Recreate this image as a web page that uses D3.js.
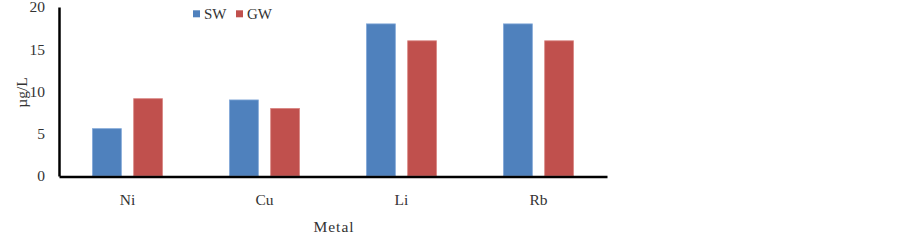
<!DOCTYPE html>
<html><head><meta charset="utf-8">
<script src="https://cdn.jsdelivr.net/npm/d3@7"></script>
<style>body{margin:0;background:#fff}svg{display:block}text{font-family:"Liberation Serif","Times New Roman",serif;fill:#333}</style>
</head><body>
<script>
const categories = ["Ni","Cu","Li","Rb"];
const seriesNames = ["SW","GW"];
const swValues = [5.6, 9.0, 18.0, 18.0];
const gwValues = [9.15, 8.0, 16.0, 16.0];
const yTicks = [0,5,10,15,20];
const colors = ["#4F81BD","#C0504D"];
const strokes = ["#7FA6D8","#D98583"];

const W=903,H=241;
const svg=d3.select("body").append("svg").attr("width",W).attr("height",H);
const x0=d3.scaleBand().domain(categories).range([59,607]).paddingInner(0).paddingOuter(0);
const x1=d3.scaleBand().domain(seriesNames).range([x0.bandwidth()/2-35, x0.bandwidth()/2+35]).paddingInner(0.3).paddingOuter(0);
const y=d3.scaleLinear().domain([0,20]).range([176,7]);
const data=[swValues,gwValues];

const g=svg.append("g");
categories.forEach((c,i)=>{
  seriesNames.forEach((s,j)=>{
    g.append("rect").attr("x",x0(c)+x1(s)).attr("y",y(data[j][i]))
     .attr("width",x1.bandwidth()).attr("height",y(0)-y(data[j][i]))
     .attr("fill",colors[j]).attr("stroke",strokes[j]).attr("stroke-width",0.8);
  });
});

// y axis
const ya=svg.append("g").attr("transform","translate(59,0)").call(d3.axisLeft(y).tickValues(yTicks).tickSize(0).tickPadding(14));
ya.select(".domain").attr("stroke","#000").attr("stroke-width",2.5);
ya.selectAll("text").style("font-family","Liberation Serif").style("font-size","15.5px").attr("fill","#333");
// x axis
const xa=svg.append("g").attr("transform","translate(0,176.5)").call(d3.axisBottom(x0).tickSize(0).tickPadding(17.5));
xa.select(".domain").attr("stroke","#000").attr("stroke-width",2.5);
xa.selectAll("text").style("font-family","Liberation Serif").style("font-size","15.5px").attr("fill","#333");

svg.append("text").attr("x",334).attr("y",232).attr("text-anchor","middle").style("font-size","15.5px").style("letter-spacing","1px").text("Metal");
svg.append("text").attr("transform","translate(26.5,92.5) rotate(-90)").attr("text-anchor","middle").style("font-size","15.5px").text("µg/L");

// legend
const leg=svg.append("g");
seriesNames.forEach((s,j)=>{
  const lx=[193,236][j];
  leg.append("rect").attr("x",lx).attr("y",10.3).attr("width",7).attr("height",7).attr("fill",colors[j]);
  leg.append("text").attr("x",lx+11).attr("y",19).style("font-size","15px").text(s);
});
</script>
</body></html>
